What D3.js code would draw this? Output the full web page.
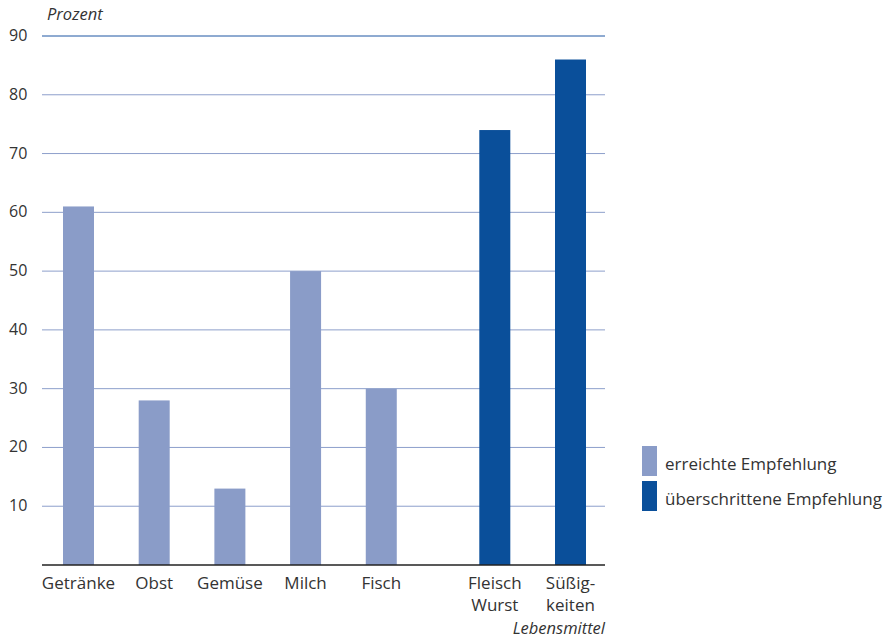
<!DOCTYPE html>
<html>
<head>
<meta charset="utf-8">
<script src="https://cdn.jsdelivr.net/npm/d3@7"></script>
<style>
  body { margin: 0; background: #fff; }
  text { font-family: "Open Sans", "Noto Sans", sans-serif; fill: #333; }
</style>
</head>
<body>
<div id="chart"></div>
<script>
const categories = [["Getränke"], ["Obst"], ["Gemüse"], ["Milch"], ["Fisch"], ["Fleisch", "Wurst"], ["Süßig-", "keiten"]];
const values = [61, 28, 13, 50, 30, 74, 86];
const groups = [0, 0, 0, 0, 0, 1, 1];
const yTicks = [10, 20, 30, 40, 50, 60, 70, 80, 90];
const legendLabels = ["erreichte Empfehlung", "überschrittene Empfehlung"];

const COLORS = ["#8a9cc8", "#0a4f9a"];
const WIDTH = 895, HEIGHT = 639;

const svg = d3.select("#chart").append("svg")
    .attr("width", WIDTH)
    .attr("height", HEIGHT);

// slot index with a half-slot gap between the two groups
const slot = (i) => i + groups[i] * 0.5;

const x = d3.scaleLinear().domain([0, 6.5]).range([78.5, 570.5]);
const y = d3.scaleLinear().domain([0, 90]).range([565, 36]);
const barWidth = 31;

// --------------------------- grid ---------------------------
svg.append("g")
    .selectAll("line")
    .data(yTicks)
    .enter()
    .append("line")
    .attr("x1", 42)
    .attr("x2", 605)
    .attr("y1", d => y(d))
    .attr("y2", d => y(d))
    .attr("stroke", d => d === 90 ? "#1f56a3" : "#8d9fcb")
    .attr("stroke-width", 1);

svg.append("g")
    .selectAll("text")
    .data(yTicks)
    .enter()
    .append("text")
    .attr("x", 9)
    .attr("y", d => y(d) + 5)
    .style("font-size", "16px")
    .text(d => d);

svg.append("text")
    .attr("x", 47)
    .attr("y", 20)
    .style("font-size", "16.5px")
    .style("font-style", "italic")
    .text("Prozent");

// --------------------------- bars ---------------------------
svg.append("g")
    .selectAll("rect")
    .data(values)
    .enter()
    .append("rect")
    .attr("x", (d, i) => x(slot(i)) - barWidth / 2)
    .attr("y", d => y(d))
    .attr("width", barWidth)
    .attr("height", d => y(0) - y(d))
    .attr("fill", (d, i) => COLORS[groups[i]]);

svg.append("line")
    .attr("x1", 42)
    .attr("x2", 605)
    .attr("y1", y(0))
    .attr("y2", y(0))
    .attr("stroke", "#222")
    .attr("stroke-width", 1.5);

// --------------------------- category labels ---------------------------
const labels = svg.append("g")
    .selectAll("text")
    .data(categories)
    .enter()
    .append("text")
    .attr("text-anchor", "middle")
    .attr("x", (d, i) => x(slot(i)))
    .attr("y", 589)
    .style("font-size", "17px");

labels.selectAll("tspan")
    .data(d => d)
    .enter()
    .append("tspan")
    .attr("x", function () { return d3.select(this.parentNode).attr("x"); })
    .attr("dy", (d, i) => i === 0 ? 0 : 22)
    .text(d => d);

svg.append("text")
    .attr("x", 605)
    .attr("y", 634)
    .attr("text-anchor", "end")
    .style("font-size", "16.5px")
    .style("font-style", "italic")
    .text("Lebensmittel");

// --------------------------- legend ---------------------------
const legend = svg.append("g")
    .selectAll("g")
    .data(legendLabels)
    .enter()
    .append("g")
    .attr("transform", (d, i) => `translate(642,${446 + i * 35})`);

legend.append("rect")
    .attr("width", 15)
    .attr("height", 30)
    .attr("fill", (d, i) => COLORS[i]);

legend.append("text")
    .attr("x", 23)
    .attr("y", 24)
    .style("font-size", "17px")
    .text(d => d);
</script>
</body>
</html>
